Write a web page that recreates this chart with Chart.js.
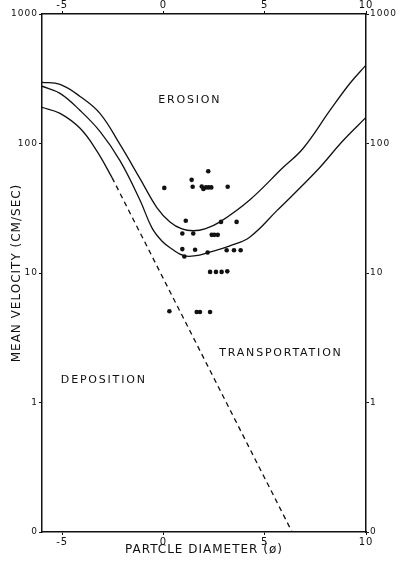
<!DOCTYPE html>
<html>
<head>
<meta charset="utf-8">
<title>Mean velocity vs particle diameter</title>
<script src="https://cdn.jsdelivr.net/npm/chart.js@4.4.1/dist/chart.umd.min.js"></script>
<style>
    html, body { margin: 0; padding: 0; background: #fff; }
    #wrap { width: 403px; height: 566px; }
</style>
</head>
<body>
<div id="wrap"><canvas id="chart" width="403" height="566"></canvas></div>
<script>
// particle diameter (phi) / mean velocity (cm/sec)
const upperX = [-6, -5.11, -4.12, -3.14, -2.15, -1.16, -0.32, 0.32, 0.91, 1.46, 2.05, 2.79, 4.27, 5.9, 6.89, 8.22, 9.21, 10];
const upperY = [297, 286, 231, 171, 98.3, 53.6, 31.9, 24.8, 21.9, 21.2, 21.9, 24.8, 36.8, 65.2, 91.5, 180, 292, 403];

const lowerX = [-6, -5.11, -4.12, -3.14, -2.15, -1.16, -0.57, -0.07, 0.42, 1.01, 1.6, 2.15, 3.28, 4.27, 5.6, 7.58, 8.86, 10];
const lowerY = [277, 244, 180, 124, 73.8, 36.5, 22.3, 17.6, 15.3, 13.6, 13.6, 14.3, 16.2, 19.0, 30.3, 61.8, 105, 159];

const depositX = [-6, -5.11, -4.12, -3.28, -2.54];
const depositY = [190, 171, 131, 87, 54.5];

const dashedX = [-2.54, 6.35];
const dashedY = [54.5, 0.1];

const obsX = [0.04, 1.39, 2.21, 1.44, 1.89, 1.97, 2.10, 2.23, 2.36, 3.17, 1.10, 2.84, 3.61,
    0.93, 1.47, 2.38, 2.51, 2.68, 0.93, 1.56, 1.03, 2.18, 3.12, 3.48, 3.81,
    2.30, 2.59, 2.87, 3.15, 0.29, 1.64, 1.80, 2.30];
const obsY = [45.4, 52.4, 61.0, 46.4, 46.6, 44.6, 45.8, 45.8, 45.8, 46.4, 25.3, 24.8, 24.8,
    20.2, 20.2, 19.7, 19.7, 19.7, 15.3, 15.1, 13.4, 14.4, 15.0, 15.0, 15.0,
    10.2, 10.2, 10.2, 10.3, 5.07, 5.0, 5.0, 5.0];

const xTickValues = [-5, 0, 5, 10];
const yTickValues = [0.1, 1, 10, 100, 1000];
const yTickLabels = ['0', '1', '10', '100', '1000'];

const regionNames = ['EROSION', 'TRANSPORTATION', 'DEPOSITION'];

const INK = '#111';

function toPoints(xs, ys) {
    return xs.map((x, i) => ({ x, y: ys[i] }));
}

// region names, anchored in data units
const regionLabels = {
    id: 'regionLabels',
    anchors: [[1.3, 215], [5.8, 2.4], [-2.95, 1.5]],
    afterDatasetsDraw(chart) {
        const { ctx, scales } = chart;
        ctx.save();
        ctx.font = '11px "DejaVu Sans", sans-serif';
        ctx.letterSpacing = '1.8px';
        ctx.fillStyle = INK;
        ctx.textAlign = 'center';
        ctx.textBaseline = 'middle';
        regionNames.forEach((name, i) => {
            const [ax, ay] = this.anchors[i];
            ctx.fillText(name, scales.x.getPixelForValue(ax), scales.y.getPixelForValue(ay));
        });
        ctx.restore();
    }
};

const spacedText = {
    id: 'spacedText',
    beforeDraw(chart) {
        chart.ctx.letterSpacing = '1px';
    }
};

const lineStyle = {
    borderColor: INK,
    borderWidth: 1.3,
    pointRadius: 0,
    fill: false,
    tension: 0.4
};

function xAxis(position, height, title) {
    return {
        type: 'linear',
        position,
        min: -6,
        max: 10,
        afterBuildTicks: (scale) => {
            scale.ticks = xTickValues.map((value) => ({ value }));
        },
        afterFit: (scale) => {
            scale.height = height;
        },
        ticks: {
            autoSkip: false,
            maxRotation: 0,
            padding: position === 'top' ? 0 : 1,
            color: INK,
            font: { size: 10 },
            callback: (value) => String(value)
        },
        grid: { drawOnChartArea: false, drawTicks: true, tickLength: 3, color: INK },
        border: { display: true, color: INK, width: 1.5 },
        title: title
            ? { display: true, text: title, color: INK, font: { size: 12 }, padding: { top: 0, bottom: 9 } }
            : { display: false }
    };
}

function yAxis(position, width, title) {
    return {
        type: 'logarithmic',
        position,
        min: 0.1,
        max: 1000,
        afterBuildTicks: (scale) => {
            scale.ticks = yTickValues.map((value) => ({ value }));
        },
        afterFit: (scale) => {
            scale.width = width;
        },
        ticks: {
            autoSkip: false,
            padding: 1,
            color: INK,
            font: { size: 9 },
            callback: (value) => yTickLabels[yTickValues.indexOf(value)]
        },
        grid: { drawOnChartArea: false, drawTicks: true, tickLength: 3, color: INK },
        border: { display: true, color: INK, width: 1.5 },
        title: title
            ? { display: true, text: title, color: INK, font: { size: 12 }, padding: { top: 10, bottom: 0 } }
            : { display: false }
    };
}

Chart.defaults.font.family = '"DejaVu Sans", sans-serif';
Chart.defaults.color = INK;

new Chart(document.getElementById('chart'), {
    type: 'line',
    data: {
        datasets: [
            { ...lineStyle, label: 'erosion upper', data: toPoints(upperX, upperY) },
            { ...lineStyle, label: 'erosion lower', data: toPoints(lowerX, lowerY) },
            { ...lineStyle, label: 'deposition', data: toPoints(depositX, depositY) },
            {
                ...lineStyle,
                label: 'deposition (extrapolated)',
                data: toPoints(dashedX, dashedY),
                borderDash: [5, 4],
                tension: 0
            },
            {
                label: 'observations',
                data: toPoints(obsX, obsY),
                showLine: false,
                pointRadius: 2.3,
                pointBorderWidth: 0,
                pointBackgroundColor: INK
            }
        ]
    },
    options: {
        responsive: false,
        animation: false,
        layout: { padding: 0 },
        plugins: {
            legend: { display: false },
            tooltip: { enabled: false }
        },
        scales: {
            x: xAxis('bottom', 34, 'PARTCLE DIAMETER (ø)'),
            x2: xAxis('top', 14, null),
            y: yAxis('left', 42, 'MEAN VELOCITY (CM/SEC)'),
            y2: yAxis('right', 37, null)
        }
    },
    plugins: [spacedText, regionLabels]
});
</script>
</body>
</html>
